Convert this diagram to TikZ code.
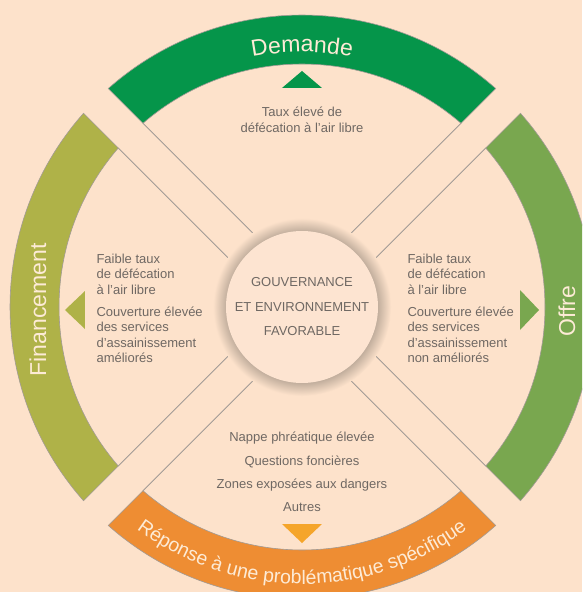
\documentclass[tikz,border=0pt]{standalone}
\usepackage{fontspec}
\setmainfont{Liberation Sans}
\usepackage{xcolor}
\usepackage{tikz}
\usetikzlibrary{calc}
\usetikzlibrary{decorations.text}

\definecolor{bgpeach}{HTML}{FDE2CB}
\definecolor{demandegreen}{HTML}{05954A}
\definecolor{offregreen}{HTML}{79A74F}
\definecolor{finolive}{HTML}{AFB248}
\definecolor{reponseorange}{HTML}{EE8D33}
\definecolor{triorange}{HTML}{F5A52A}
\definecolor{edgegray}{HTML}{A29B95}
\definecolor{txtgray}{HTML}{6F6863}
\definecolor{bandtxt}{HTML}{FDEBD6}
\definecolor{hubshadow}{HTML}{B5A393}
\definecolor{hubfill}{HTML}{FDE4D1}

\pgfdeclareradialshading{hubring}{\pgfpoint{0bp}{0bp}}{color(0bp)=(hubshadow); color(20.5bp)=(hubshadow); color(25bp)=(bgpeach); color(50bp)=(bgpeach)}

\tikzset{
  bandedge/.style={draw=edgegray,line width=0.6pt},
  stripline/.style={draw=edgegray,line width=0.9pt},
  bodytext/.style={text=txtgray,font=\fontsize{13}{15.5}\selectfont},
  bandlabel/.style={text=bandtxt,font=\fontsize{23}{27}\selectfont,rotate=90}
}

\begin{document}
\begin{tikzpicture}[x=1pt,y=1pt]
	\useasboundingbox (-302,-285) rectangle (280,307);
	\clip (-302,-285) rectangle (280,307);
	\fill[bgpeach] (-302,-285) rectangle (280,307);
	\pgfmathsetmacro{\ao}{asin(17.5/292)}
	\pgfmathsetmacro{\ai}{asin(17.5/243)}
	\pgfmathsetmacro{\ac}{asin(17.5/89)}
	\foreach \mid/\col in {90/demandegreen,0/offregreen,180/finolive,270/reponseorange}{
		\fill[\col,bandedge] (\mid-45+\ao:292) arc[start angle=\mid-45+\ao,end angle=\mid+45-\ao,radius=292]
			-- (\mid+45-\ai:243) arc[start angle=\mid+45-\ai,end angle=\mid-45+\ai,radius=243] -- cycle;
	}
	\foreach \d in {45,135,225,315}{
		\foreach \s/\n in {1/p,-1/m}{
			\coordinate (ring\d\n) at (\d+\s*\ai:243);
			\coordinate (hub\d\n) at (\d+\s*\ac:89);
			\draw[stripline] (ring\d\n) -- (hub\d\n);
		}
	}
	\shade[shading=hubring] (0,0) circle (89);
	\fill[hubfill] (0,0) circle (76);
	\node[bodytext,align=center,font=\fontsize{13}{24.5}\selectfont] (hub) at (0,0) {GOUVERNANCE\\ET ENVIRONNEMENT\\FAVORABLE};
	\fill[demandegreen] (0,236) -- (-20,219) -- (20,219) -- cycle;
	\fill[offregreen] (237,-3) -- (218,17) -- (218,-23) -- cycle;
	\fill[finolive] (-237,-3) -- (-217,16) -- (-217,-22) -- cycle;
	\fill[triorange] (0,-236) -- (-20,-217) -- (20,-217) -- cycle;
	\path[decorate,decoration={text along path,text align=center,
		text={|\fontsize{23}{27}\selectfont\color{bandtxt}|Demande}}]
		(135:255) arc[start angle=135,end angle=45,radius=255];
	\path[decorate,decoration={text along path,text align=center,
		text={|\fontsize{19.5}{24}\selectfont\color{bandtxt}|Réponse à une problématique spécifique}}]
		(205:277) arc[start angle=205,end angle=335,radius=277];
	\node[bandlabel] (financement) at (-264,-3) {Financement};
	\node[bandlabel] (offre) at (265,-4) {Offre};
	\node[bodytext,align=center,font=\fontsize{13}{16}\selectfont] (demandetxt) at (0,187) {Taux élevé de\\défécation à l’air libre};
	\node[bodytext,align=left,anchor=west] (fintxta) at (-209,33) {Faible taux\\de défécation\\à l’air libre};
	\node[bodytext,align=left,anchor=west] (fintxtb) at (-209,-28) {Couverture élevée\\des services\\d’assainissement\\améliorés};
	\node[bodytext,align=left,anchor=west] (offtxta) at (102,33) {Faible taux\\de défécation\\à l’air libre};
	\node[bodytext,align=left,anchor=west] (offtxtb) at (102,-28) {Couverture élevée\\des services\\d’assainissement\\non améliorés};
	\node[bodytext,align=center,font=\fontsize{13}{23.3}\selectfont] (reponsetxt) at (0,-165) {Nappe phréatique élevée\\Questions foncières\\Zones exposées aux dangers\\Autres};
\end{tikzpicture}
\end{document}
